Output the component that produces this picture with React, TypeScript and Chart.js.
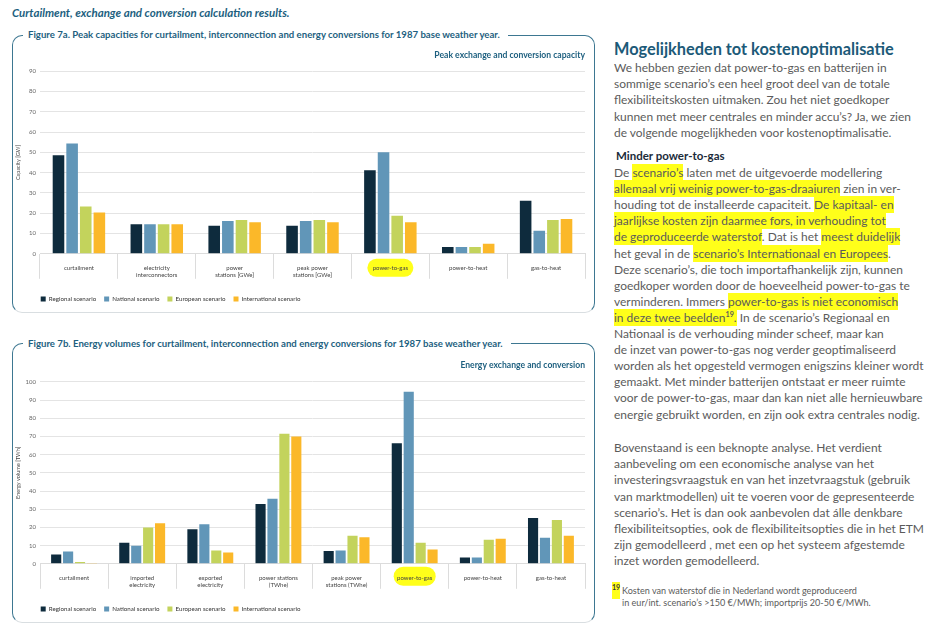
import React, { useEffect, useMemo, useRef } from 'react';
import { Chart, registerables } from 'chart.js';

Chart.register(...registerables);

// ---------- DATA ----------
const seriesNames = ['Regional scenario', 'National scenario', 'European scenario', 'International scenario'];
const seriesColors = ['#0e2b3d', '#6196b8', '#c3d35c', '#fbb829'];

const capCategories: (string | string[])[] = [
  'curtailment',
  ['electricity', 'interconnectors'],
  ['power', 'stations [GWe]'],
  ['peak power', 'stations [GWe]'],
  'power-to-gas',
  'power-to-heat',
  'gas-to-heat',
];
const capRegional = [48.5, 14.5, 13.8, 13.8, 41.2, 3.3, 26.1];
const capNational = [54.3, 14.5, 16.1, 16.1, 50.0, 3.3, 11.3];
const capEuropean = [23.3, 14.5, 16.6, 16.6, 18.7, 3.3, 16.6];
const capInternational = [20.3, 14.5, 15.6, 15.6, 15.6, 4.9, 17.1];
const capMax = 90;

const volCategories: (string | string[])[] = [
  'curtailment',
  ['imported', 'electricity'],
  ['exported', 'electricity'],
  ['power stations', '(TWhe)'],
  ['peak power', 'stations (TWhe)'],
  'power-to-gas',
  'power-to-heat',
  'gas-to-heat',
];
const volRegional = [5.1, 11.5, 19.0, 32.9, 7.0, 66.2, 3.5, 25.1];
const volNational = [6.8, 9.9, 21.8, 35.7, 7.3, 94.5, 3.5, 14.3];
const volEuropean = [1.0, 20.0, 7.3, 71.5, 15.4, 11.5, 13.2, 24.0];
const volInternational = [0.5, 22.3, 6.2, 70.0, 14.6, 7.9, 13.7, 15.4];
const volMax = 100;
const tickStep = 10;

// ---------- STYLE ----------
const FAMILY = 'Lato, "Open Sans", sans-serif';
const TEAL = '#1d5f7f';
const BORDER = '#3d7791';
const HL = '#ffff1a';
const BODY = '#5b5b5b';

const highlightPlugin = {
  id: 'labelHighlight',
  beforeDraw(chart: any, _args: any, opts: any) {
    if (opts == null || opts.index == null) return;
    const xs = chart.scales.x;
    const cx = xs.getPixelForValue(opts.index);
    const y = xs.top + opts.dy;
    const w = opts.w;
    const h = opts.h;
    const ctx = chart.ctx;
    ctx.save();
    ctx.fillStyle = opts.color;
    ctx.beginPath();
    if (ctx.roundRect) ctx.roundRect(cx - w / 2, y, w, h, h / 2);
    else ctx.rect(cx - w / 2, y, w, h);
    ctx.fill();
    ctx.restore();
  },
};

const legendShiftPlugin = {
  id: 'legendShift',
  afterLayout(chart: any, _args: any, opts: any) {
    const lg = chart.legend;
    if (!lg) return;
    const pad = lg.options.labels.padding;
    lg.left = chart.chartArea.left + (opts.dx || 0) - pad;
  },
};

type Spec = {
  categories: (string | string[])[];
  series: number[][];
  max: number;
  subtitle: string;
  yTitle: string;
  hlIndex: number;
  hl: { w: number; h: number; dy: number };
  titlePadTop: number;
  titlePadBottom: number;
};

function BarPanel({ spec, left, top, width, height }: { spec: Spec; left: number; top: number; width: number; height: number }) {
  const ref = useRef<HTMLCanvasElement>(null);
  useEffect(() => {
    if (!ref.current) return;
    const chart = new Chart(ref.current, {
      type: 'bar',
      data: {
        labels: spec.categories as any,
        datasets: seriesNames.map((n, i) => ({
          label: n,
          data: spec.series[i],
          backgroundColor: seriesColors[i],
          borderWidth: 0,
          categoryPercentage: 0.7,
          barPercentage: 0.85,
        })),
      },
      options: {
        animation: false,
        responsive: true,
        maintainAspectRatio: false,
        layout: { padding: { left: 0, right: 7, top: 0, bottom: 0 } },
        plugins: {
          title: {
            display: true,
            text: spec.subtitle,
            align: 'end',
            color: TEAL,
            font: { family: FAMILY, size: 8.6, weight: 'bold' },
            padding: { top: spec.titlePadTop, bottom: spec.titlePadBottom },
          },
          legend: {
            position: 'bottom',
            align: 'start',
            labels: {
              boxWidth: 5,
              boxHeight: 5,
              padding: 8,
              color: '#333',
              font: { family: FAMILY, size: 6.2 },
            },
          },
          tooltip: { enabled: false },
          labelHighlight: { index: spec.hlIndex, w: spec.hl.w, h: spec.hl.h, dy: spec.hl.dy, color: HL },
          legendShift: { dx: 0.7 },
        } as any,
        scales: {
          x: {
            offset: true,
            grid: { offset: true, drawOnChartArea: false, tickLength: 25, color: '#dcdcdc', lineWidth: 1 },
            border: { display: true, color: '#dcdcdc' },
            ticks: { padding: -14.6, color: '#444', font: { family: FAMILY, size: 6 }, maxRotation: 0, autoSkip: false },
            afterFit: (s: any) => {
              s.height = 34;
            },
          },
          y: {
            min: 0,
            max: spec.max,
            ticks: { stepSize: tickStep, padding: 4, color: '#666', font: { family: FAMILY, size: 6 } },
            grid: { color: '#e4e4e4', drawTicks: false, lineWidth: 1 },
            border: { display: false },
            title: { display: true, text: spec.yTitle, color: '#444', font: { family: FAMILY, size: 5.5 }, padding: { top: 1, bottom: 0 } },
            afterFit: (s: any) => {
              s.width = 26;
            },
          },
        },
      },
      plugins: [highlightPlugin as any, legendShiftPlugin as any],
    });
    return () => chart.destroy();
  }, [spec]);
  return (
    <div style={{ position: 'absolute', left, top, width, height }}>
      <canvas ref={ref} />
    </div>
  );
}

function fit(text: string, target: number, weight = 'normal', style = 'normal', family = FAMILY) {
  const c = document.createElement('canvas').getContext('2d');
  if (!c) return 11;
  const base = 20;
  c.font = `${style} ${weight} ${base}px ${family}`;
  const w = c.measureText(text).width;
  return (base * target) / w;
}

function renderSegments(text: string) {
  const parts = text.split('|');
  return parts.map((p, i) => {
    const hl = i % 2 === 1;
    const sub = p.split('{19}');
    const content: React.ReactNode[] = [];
    sub.forEach((s, j) => {
      if (j > 0)
        content.push(
          <sup key={'s' + j} style={{ fontSize: '0.6em', fontWeight: 700, lineHeight: 0, verticalAlign: 'super' }}>
            19
          </sup>
        );
      if (s) content.push(<React.Fragment key={'t' + j}>{s}</React.Fragment>);
    });
    return (
      <span key={i} style={hl ? { background: HL, padding: '1px 0' } : undefined}>
        {content}
      </span>
    );
  });
}

const para1 = [
  'We hebben gezien dat power-to-gas en batterijen in',
  'sommige scenario’s een heel groot deel van de totale',
  'flexibiliteitskosten uitmaken. Zou het niet goedkoper',
  'kunnen met meer centrales en minder accu’s? Ja, we zien',
  'de volgende mogelijkheden voor kostenoptimalisatie.',
];
const para2 = [
  'De |scenario’s| laten met de uitgevoerde modellering',
  '|allemaal vrij weinig power-to-gas-draaiuren| zien in ver-',
  'houding tot de installeerde capaciteit. |De kapitaal- en|',
  '|jaarlijkse kosten zijn daarmee fors, in verhouding tot|',
  '|de geproduceerde waterstof|. Dat is het |meest duidelijk|',
  'het geval in de |scenario’s Internationaal en Europees|.',
  'Deze scenario’s, die toch importafhankelijk zijn, kunnen',
  'goedkoper worden door de hoeveelheid power-to-gas te',
  'verminderen. Immers |power-to-gas is niet economisch|',
  '|in deze twee beelden{19}.| In de scenario’s Regionaal en',
  'Nationaal is de verhouding minder scheef, maar kan',
  'de inzet van power-to-gas nog verder geoptimaliseerd',
  'worden als het opgesteld vermogen enigszins kleiner wordt',
  'gemaakt. Met minder batterijen ontstaat er meer ruimte',
  'voor de power-to-gas, maar dan kan niet alle hernieuwbare',
  'energie gebruikt worden, en zijn ook extra centrales nodig.',
];
const para3 = [
  'Bovenstaand is een beknopte analyse. Het verdient',
  'aanbeveling om een economische analyse van het',
  'investeringsvraagstuk en van het inzetvraagstuk (gebruik',
  'van marktmodellen) uit te voeren voor de gepresenteerde',
  'scenario’s. Het is dan ook aanbevolen dat álle denkbare',
  'flexibiliteitsopties, ook de flexibiliteitsopties die in het ETM',
  'zijn gemodelleerd , met een op het systeem afgestemde',
  'inzet worden gemodelleerd.',
];

export default function App() {
  const sizes = useMemo(
    () => ({
      header: fit('Curtailment, exchange and conversion calculation results.', 278, 'bold', 'italic'),
      fig7a: fit('Figure 7a. Peak capacities for curtailment, interconnection and energy conversions for 1987 base weather year.', 474, 'bold'),
      fig7b: fit('Figure 7b. Energy volumes for curtailment, interconnection and energy conversions for 1987 base weather year.', 477, 'bold'),
      heading: fit('Mogelijkheden tot kostenoptimalisatie', 280, 'bold'),
      sub: fit('Minder power-to-gas', 109, 'bold'),
      body: fit('We hebben gezien dat power-to-gas en batterijen in', 273),
      foot: fit('Kosten van waterstof die in Nederland wordt geproduceerd', 236),
    }),
    []
  );

  const capSpec: Spec = useMemo(
    () => ({
      categories: capCategories,
      series: [capRegional, capNational, capEuropean, capInternational],
      max: capMax,
      subtitle: 'Peak exchange and conversion capacity',
      yTitle: 'Capacity [GW]',
      hlIndex: capCategories.indexOf('power-to-gas'),
      hl: { w: 46, h: 18, dy: 5 },
      titlePadTop: 5.9,
      titlePadBottom: 10.9,
    }),
    []
  );
  const volSpec: Spec = useMemo(
    () => ({
      categories: volCategories,
      series: [volRegional, volNational, volEuropean, volInternational],
      max: volMax,
      subtitle: 'Energy exchange and conversion',
      yTitle: 'Energy volume [TWh]',
      hlIndex: volCategories.indexOf('power-to-gas'),
      hl: { w: 42, h: 19, dy: 3 },
      titlePadTop: 7.9,
      titlePadBottom: 11.6,
    }),
    []
  );

  const line = (text: string, x: number, y: number, size: number, key: string, extra: React.CSSProperties = {}) => (
    <div
      key={key}
      style={{
        position: 'absolute',
        left: x,
        top: y - 8,
        height: 16,
        lineHeight: '16px',
        fontSize: size,
        whiteSpace: 'nowrap',
        color: BODY,
        ...extra,
      }}
    >
      {renderSegments(text)}
    </div>
  );

  const boxStyle = (top: number, height: number): React.CSSProperties => ({
    position: 'absolute',
    left: 12,
    top,
    width: 583,
    height,
    boxSizing: 'border-box',
    border: `1.5px solid ${BORDER}`,
    borderBottom: '1px solid #d9dee1',
    borderRadius: 10,
  });
  const figTitle = (text: string, top: number, size: number): React.CSSProperties => ({
    position: 'absolute',
    left: 23,
    top: top - 7,
    height: 14,
    lineHeight: '14px',
    padding: '0 8px 0 5px',
    background: '#fff',
    color: TEAL,
    fontWeight: 700,
    fontSize: size,
    whiteSpace: 'nowrap',
  });

  return (
    <div
      style={{
        position: 'absolute',
        left: 0,
        top: 0,
        width: 945,
        height: 629,
        overflow: 'hidden',
        background: '#fff',
        fontFamily: FAMILY,
      }}
    >
      <div
        style={{
          position: 'absolute',
          left: 12,
          top: 6,
          lineHeight: '14px',
          fontSize: sizes.header,
          fontWeight: 700,
          fontStyle: 'italic',
          color: TEAL,
          whiteSpace: 'nowrap',
        }}
      >
        Curtailment, exchange and conversion calculation results.
      </div>

      <div style={boxStyle(35, 278)} />
      <div style={figTitle('', 35, sizes.fig7a)}>
        Figure 7a. Peak capacities for curtailment, interconnection and energy conversions for 1987 base weather year.
      </div>
      <BarPanel spec={capSpec} left={14} top={44} width={578} height={268} />

      <div style={boxStyle(343, 280)} />
      <div style={figTitle('', 343, sizes.fig7b)}>
        Figure 7b. Energy volumes for curtailment, interconnection and energy conversions for 1987 base weather year.
      </div>
      <BarPanel spec={volSpec} left={14} top={352} width={578} height={270} />

      <div
        style={{
          position: 'absolute',
          left: 614,
          top: 39,
          lineHeight: '20px',
          fontSize: sizes.heading,
          fontWeight: 700,
          color: '#1c5a78',
          whiteSpace: 'nowrap',
        }}
      >
        Mogelijkheden tot kostenoptimalisatie
      </div>
      {para1.map((t, i) => line(t, 614, 68 + i * 16.2, sizes.body, 'p1' + i))}
      {line('Minder power-to-gas', 616, 156, sizes.sub, 'sub', { fontWeight: 700, color: '#1b2b3a' })}
      {para2.map((t, i) => line(t, 614, 173 + i * 16.1, sizes.body, 'p2' + i))}
      {para3.map((t, i) => line(t, 614, 448 + i * 16.2, sizes.body, 'p3' + i))}
      {line('|{19}|', 612, 591, sizes.foot * 1.3, 'fn0', { color: '#333' })}
      {line('Kosten van waterstof die in Nederland wordt geproduceerd', 622, 591, sizes.foot, 'fn1')}
      {line('in eur/int. scenario’s >150 €/MWh; importprijs 20-50 €/MWh.', 622, 602.5, sizes.foot, 'fn2')}
    </div>
  );
}
